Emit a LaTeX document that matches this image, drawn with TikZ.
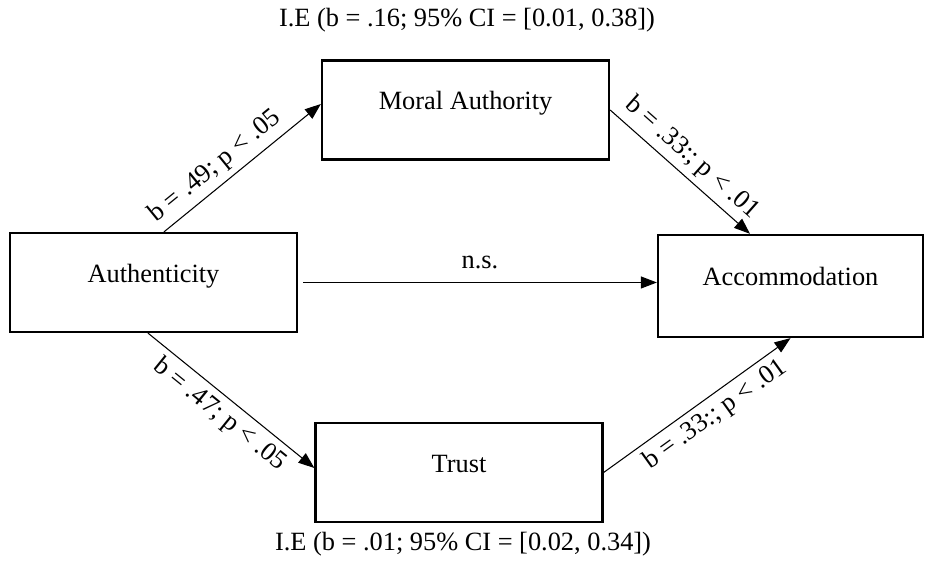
\documentclass[tikz,border=0pt]{standalone}
\usepackage{fontspec}
\setmainfont{Liberation Serif}
\usepackage{tikz}
\usetikzlibrary{arrows.meta, positioning}

\begin{document}
\begin{tikzpicture}[font=\fontsize{15}{18}\selectfont]
        \tikzstyle{box} = [rectangle, draw=black, line width=1.3pt, minimum width=5.74cm, minimum height=1.98cm, text height=0.7em, text depth=0.75em, text centered]
        \tikzstyle{arrow} = [line width=0.6pt, -{Triangle[length=3.2mm, width=2.4mm]}]
        \useasboundingbox (0,0) rectangle (18.68,11.3);

        \node (auth) [box] at (3.07,5.65) {Authenticity};
        \node (moral) [box] at (9.31,9.10) {Moral Authority};
        \node (trust) [box] at (9.18,1.85) {Trust};
        \node (accom) [box, minimum width=5.3cm, minimum height=2.04cm] at (15.81,5.58) {Accommodation};

        \node (ietop) at (9.34,10.9) {I.E (b = .16; 95\% CI = [0.01, 0.38])};
        \node (iebot) at (9.26,0.42) {I.E (b = .01; 95\% CI = [0.02, 0.34])};

        \draw [arrow] ([xshift=0.21cm]auth.north) -- node[sloped, above, pos=0.4] {b = .49; p < .05} ([yshift=0.12cm]moral.west);
        \draw [arrow] (moral.east) -- node[sloped, above] {b = .33:; p < .01} ([xshift=-0.81cm]accom.north);
        \draw [arrow] ([xshift=-0.11cm]auth.south) -- node[sloped, below] {b = .47; p < .05} ([yshift=0.09cm]trust.west);
        \draw [arrow] (trust.east) -- node[sloped, below, pos=0.54] {b = .33:; p < .01} (accom.south);
        \draw [arrow] ([xshift=0.1cm]auth.east) -- node[above=0.15cm] {n.s.} (auth.east -| accom.west);
    \end{tikzpicture}
\end{document}
